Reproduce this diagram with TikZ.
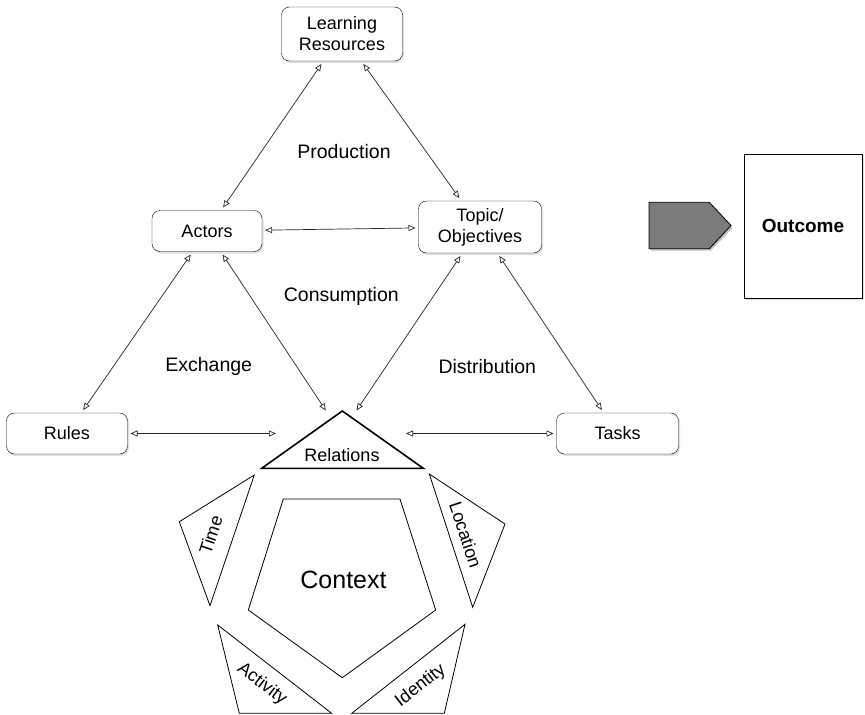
\documentclass[tikz,border=0pt]{standalone}
\usepackage{fontspec}
\setmainfont{Liberation Sans}
\usetikzlibrary{arrows.meta,shadows}
\definecolor{flowgray}{HTML}{7A7A7A}
\newcommand{\boxFont}{\fontsize{18}{21}\selectfont}
\newcommand{\edgeFont}{\fontsize{19.5}{23}\selectfont}

\begin{document}
\begin{tikzpicture}[x=1pt, y=-1pt,
  concept/.style={draw, rounded corners=8pt, fill=white, align=center, inner sep=0pt, outer sep=3pt,
    font=\boxFont, drop shadow={shadow xshift=1.5pt, shadow yshift=-2pt, opacity=.25}},
  link/.style={draw=black!85, line width=0.7pt, >={Triangle[open,length=7pt,width=6pt]}, <->},
  flowLabel/.style={font=\edgeFont},
  facet/.style={draw, line width=0.8pt, fill=white},
  facetLabel/.style={font=\boxFont}]
   \useasboundingbox (0,0) rectangle (865,715);

   % concept boxes
   \node[concept, minimum width=121, minimum height=54] (resources) at (342,34) {Learning\\Resources};
   \node[concept, minimum width=110, minimum height=41] (actors) at (207,231) {Actors};
   \node[concept, minimum width=123, minimum height=52] (topic) at (480,227) {Topic/\\Objectives};
   \node[concept, minimum width=121, minimum height=41] (rules) at (67,433.5) {Rules};
   \node[concept, minimum width=122, minimum height=41] (tasks) at (617.5,433.5) {Tasks};
   \node[minimum width=124, minimum height=40, inner sep=0pt, outer sep=3pt] (rel) at (341,433.5) {};

   % relations and context
   \draw[line width=1.6pt, line join=miter] (342.3,411) -- (423.3,468.3) -- (261.7,468.3) -- cycle;
   \node[font=\boxFont] (relations) at (342,455) {Relations};
   \draw[facet] (283.3,499) -- (400,499) -- (435.7,610) -- (342.3,677.7) -- (248.3,610) -- cycle;
   \node[font=\fontsize{25}{30}\selectfont] (context) at (343.5,580) {Context};

   \draw[facet] (254.3,475) -- (179.3,521.7) -- (210,605.7) -- cycle;
   \draw[facet] (429.3,474) -- (505,524) -- (472.7,607.3) -- cycle;
   \draw[facet] (465,624.3) -- (444.3,713.3) -- (351.7,713.3) -- cycle;
   \draw[facet] (217.7,625) -- (239.3,713.3) -- (331.7,713.3) -- cycle;
   \node[facetLabel, rotate=71.4] (time) at (210.7,535) {Time};
   \node[facetLabel, rotate=-71.7] (location) at (465.7,535) {Location};
   \node[facetLabel, rotate=38] (identity) at (420.7,685.7) {Identity};
   \node[facetLabel, rotate=-37.7] (activity) at (262,684) {Activity};

   % links
   \draw[link] (resources) -- (actors);
   \draw[link] (resources) -- (topic);
   \draw[link] (actors) -- (topic);
   \draw[link] (actors) -- (rules);
   \draw[link] (actors) -- (rel);
   \draw[link] (topic) -- (rel);
   \draw[link] (topic) -- (tasks);
   \draw[link] (rules) -- (rel);
   \draw[link] (rel) -- (tasks);

   \node[flowLabel] (production) at (344,151.7) {Production};
   \node[flowLabel] (consumption) at (341.3,296.7) {Consumption};
   \node[flowLabel] (exchange) at (208.7,366.7) {Exchange};
   \node[flowLabel] (distribution) at (487.3,366.7) {Distribution};

   % outcome
   \fill[black, opacity=.25] (650.5,204.3) -- (710.8,204.3) -- (732.5,228) -- (710.8,250.7) -- (650.5,250.7) -- cycle;
   \draw[fill=flowgray, line width=0.8pt] (649,202.3) -- (709.3,202.3) -- (731,225.5) -- (709.3,248.7) -- (649,248.7) -- cycle;
   \node[draw, fill=white, line width=0.8pt, minimum width=118, minimum height=144, inner sep=0pt,
     font=\bfseries\fontsize{19}{23}\selectfont,
     drop shadow={shadow xshift=1.5pt, shadow yshift=-2pt, opacity=.25}] (outcome) at (803,226.2) {Outcome};
\end{tikzpicture}
\end{document}
